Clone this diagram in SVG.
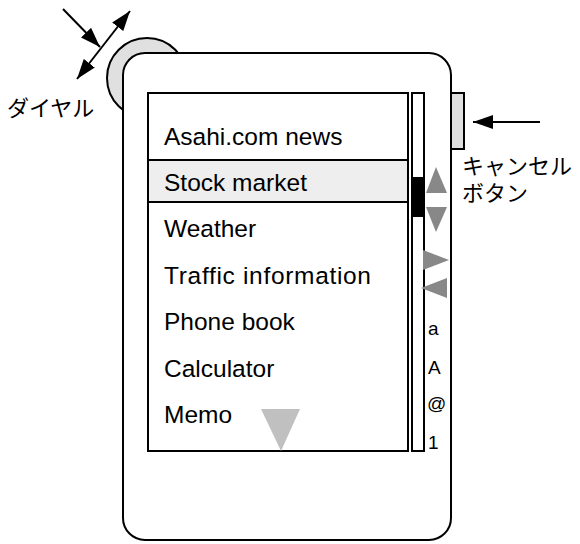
<svg xmlns="http://www.w3.org/2000/svg" width="580" height="544" viewBox="0 0 580 544">
<style>
.ln{stroke:#000;stroke-width:2;fill:none}
.part{stroke:#000;stroke-width:2}
.item{font-family:"Liberation Sans",Arial,sans-serif;font-size:24.5px;fill:#000}
.side{font-family:"Liberation Sans",Arial,sans-serif;font-size:19px;fill:#000}
.jp{font-family:"Liberation Sans","Noto Sans CJK JP",sans-serif;font-size:22px;fill:#000}
</style>
<defs>
<marker id="ahb" viewBox="0 0 20 14" refX="20" refY="7" markerWidth="20" markerHeight="14" markerUnits="userSpaceOnUse" orient="auto-start-reverse">
<path d="M0,0 L20,7 L0,14 z" fill="#000"/>
</marker>
</defs>
<g id="dial">
<circle class="part" cx="147" cy="78" r="40" fill="#e0e0e0"/>
</g>
<g id="cancel-button">
<rect class="part" x="451" y="93" width="13" height="56" fill="#e0e0e0"/>
</g>
<g id="body">
<rect class="part" x="123" y="53" width="328" height="487" rx="22" ry="22" fill="#fff"/>
</g>
<g id="screen">
<rect class="part" x="148" y="93" width="260" height="358" fill="#fff"/>
<rect class="part" x="148" y="160" width="260" height="42" fill="#eeeeee"/>
<text class="item" x="164" y="145">Asahi.com news</text>
<text class="item" x="164" y="191">Stock market</text>
<text class="item" x="164" y="237">Weather</text>
<text class="item" x="164" y="284" textLength="207" lengthAdjust="spacing">Traffic information</text>
<text class="item" x="164" y="330">Phone book</text>
<text class="item" x="164" y="377">Calculator</text>
<text class="item" x="164" y="423">Memo</text>
<polygon points="261,409 300,409 281,451" fill="#c0c0c0"/>
</g>
<g id="scrollbar">
<rect class="part" x="412" y="93" width="12" height="358" fill="#fff"/>
<rect x="412" y="177" width="12" height="40" fill="#000"/>
</g>
<g id="scroll-arrows">
<polygon points="436,167 447,193 426,193" fill="#888"/>
<polygon points="426,207 447,207 436,232" fill="#888"/>
<polygon points="423,250 449,260 423,270" fill="#888"/>
<polygon points="421,288 447,278 447,298" fill="#888"/>
</g>
<g id="input-modes">
<text class="side" x="428" y="335">a</text>
<text class="side" x="428" y="374">A</text>
<text class="side" x="427" y="410">@</text>
<text class="side" x="428" y="449">1</text>
</g>
<g id="labels">
<text class="jp" x="7" y="116" font-size="23">ダイヤル</text>
<text class="jp" x="462" y="174">キャンセル</text>
<text class="jp" x="462" y="201">ボタン</text>
</g>
<g id="connectors">
<line class="ln" x1="63" y1="9" x2="100" y2="47" marker-end="url(#ahb)"/>
<line class="ln" x1="77" y1="79" x2="130" y2="11" marker-start="url(#ahb)" marker-end="url(#ahb)"/>
<line class="ln" x1="540" y1="122" x2="473" y2="122" marker-end="url(#ahb)"/>
</g>
</svg>
